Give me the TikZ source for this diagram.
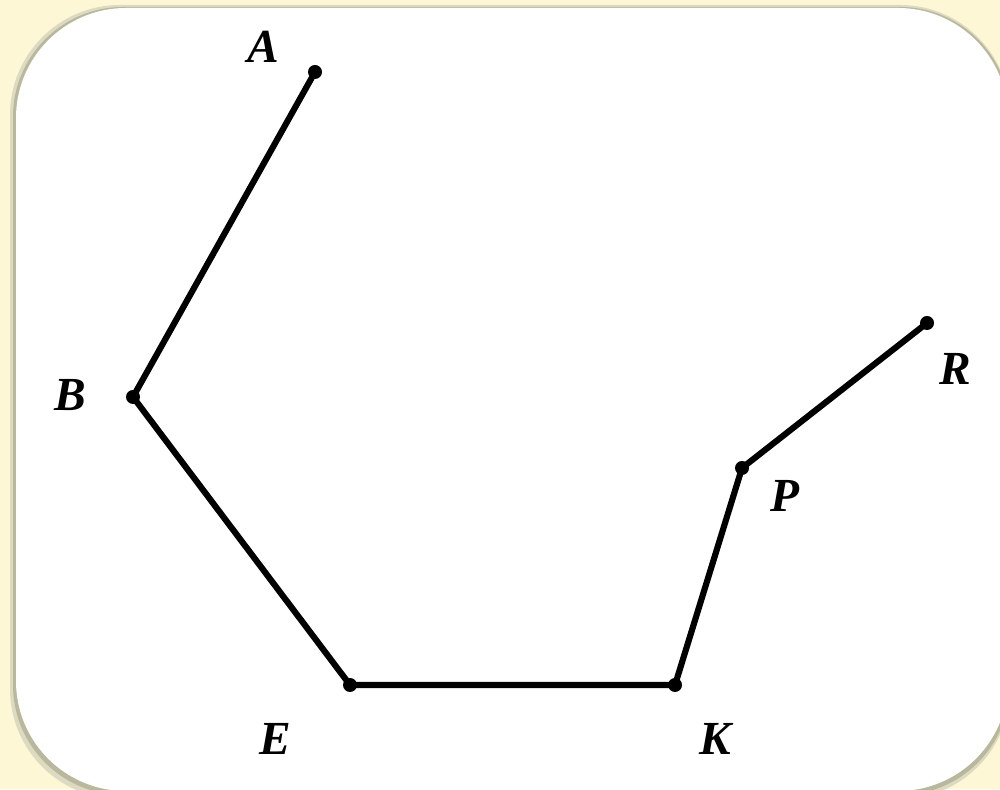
\documentclass[tikz,border=0pt]{standalone}
\usepackage{fontspec}
\setmainfont{Liberation Serif}
\usepackage{tikz}
\usetikzlibrary{positioning,calc}
\usepackage{xcolor}
\definecolor{padyellow}{HTML}{FDF7D6}
\definecolor{shadegrey}{HTML}{B9B79C}
\definecolor{shadelight}{HTML}{DCDAC0}

\begin{document}
\begin{tikzpicture}[
  font=\fontsize{13.5}{15}\selectfont\bfseries\itshape,
  pt/.style={circle, fill=black, inner sep=0pt, minimum size=1.4mm},
  lbl/.style={inner sep=0pt},
  seg/.style={line width=1.75pt, line cap=round, line join=round},
]
% page background and card
\fill[padyellow] (0,0) rectangle (10,7.89);
\useasboundingbox (0,0) rectangle (10,7.89);
\fill[shadelight, rounded corners=11mm] (0.10,-0.10) rectangle (10.10,7.84);
\fill[shadegrey, rounded corners=11mm] (0.13,-0.06) rectangle (10.10,7.82);
\fill[white, rounded corners=11mm] (0.16,-0.02) rectangle (10.08,7.81);

% vertices
\node[pt] (a) at (3.15,7.17) {};
\node[pt] (b) at (1.33,3.92) {};
\node[pt] (e) at (3.50,1.04) {};
\node[pt] (k) at (6.75,1.04) {};
\node[pt] (p) at (7.42,3.21) {};
\node[pt] (r) at (9.27,4.66) {};

% labels
\node[lbl] (la) at (2.63,7.42) {A};
\node[lbl] (lb) at (0.70,3.94) {B};
\node[lbl] (le) at (2.75,0.50) {E};
\node[lbl] (lk) at (7.15,0.50) {K};
\node[lbl] (lp) at (7.85,2.93) {P};
\node[lbl] (lr) at (9.55,4.20) {R};

\draw[seg] (a.center) -- (b.center) -- (e.center) -- (k.center)
  -- (p.center) -- (r.center);
\end{tikzpicture}
\end{document}
